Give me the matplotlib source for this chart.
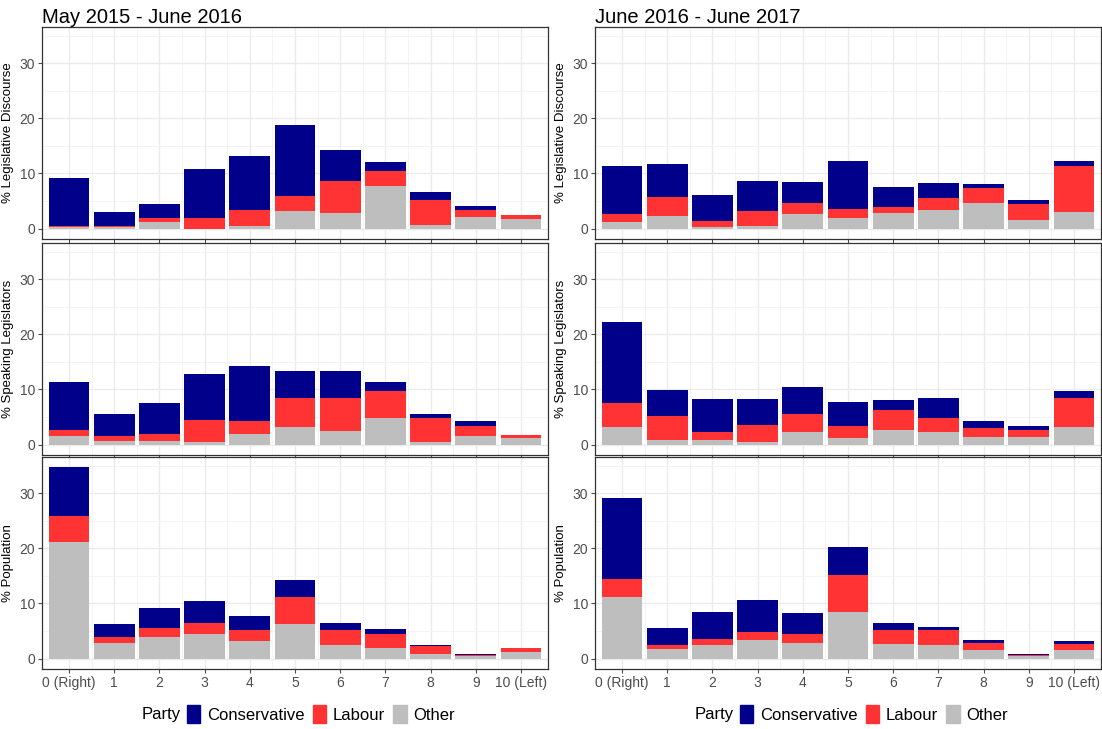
import matplotlib.pyplot as plt
from matplotlib.patches import Patch

plt.rcParams["font.family"] = ["Liberation Sans", "DejaVu Sans"]

categories = ["0 (Right)", "1", "2", "3", "4", "5", "6", "7", "8", "9", "10 (Left)"]
periods = ["May 2015 - June 2016", "June 2016 - June 2017"]
rows = ["% Legislative Discourse", "% Speaking Legislators", "% Population"]

# per panel: (other, labour, conservative)
discourse_1516 = ([0.3, 0.2, 1.2, 0, 0.5, 3.2, 2.8, 7.7, 0.6, 2.1, 1.7],
                  [0.2, 0.3, 0.8, 2.0, 2.9, 2.7, 5.9, 2.7, 4.5, 1.3, 0.8],
                  [8.7, 2.5, 2.5, 8.9, 9.8, 12.9, 5.6, 1.7, 1.6, 0.7, 0])
discourse_1617 = ([1.1, 2.2, 0.2, 0.4, 2.6, 2.0, 2.8, 3.3, 4.6, 1.5, 3.0],
                  [1.5, 3.6, 1.1, 2.7, 2.0, 1.5, 1.1, 2.2, 2.7, 2.9, 8.4],
                  [8.7, 6.0, 4.7, 5.5, 3.8, 8.8, 3.6, 2.7, 0.7, 0.7, 0.9])
speakers_1516 = ([1.5, 0.7, 0.7, 0.4, 2.0, 3.1, 2.4, 4.9, 0.5, 1.5, 1.1],
                 [1.2, 0.9, 1.3, 4.0, 2.2, 5.3, 6.0, 4.9, 4.4, 1.8, 0.7],
                 [8.6, 3.9, 5.6, 8.5, 10.0, 4.9, 4.9, 1.5, 0.6, 0.9, 0])
speakers_1617 = ([3.2, 0.8, 0.8, 0.4, 2.3, 1.2, 2.7, 2.3, 1.4, 1.3, 3.1],
                 [4.3, 4.4, 1.4, 3.1, 3.2, 2.2, 3.6, 2.6, 1.6, 1.3, 5.4],
                 [14.8, 4.7, 6.0, 4.7, 5.0, 4.3, 1.8, 3.5, 1.3, 0.8, 1.2])
population_1516 = ([21.1, 2.9, 4.0, 4.4, 3.1, 6.2, 2.4, 2.0, 0.9, 0.4, 1.1],
                   [4.7, 1.1, 1.5, 2.1, 2.0, 4.9, 2.7, 2.4, 1.3, 0.3, 0.9],
                   [8.9, 2.2, 3.6, 3.9, 2.7, 3.1, 1.3, 0.9, 0.3, 0.2, 0])
population_1617 = ([11.1, 1.8, 2.5, 3.3, 2.9, 8.5, 2.7, 2.5, 1.5, 0.4, 1.5],
                   [3.4, 0.7, 1.1, 1.6, 1.6, 6.6, 2.4, 2.6, 1.4, 0.3, 1.2],
                   [14.6, 3.0, 4.9, 5.8, 3.7, 5.1, 1.3, 0.7, 0.4, 0.2, 0.4])

panels = [[discourse_1516, discourse_1617],
          [speakers_1516, speakers_1617],
          [population_1516, population_1617]]

parties = ["Conservative", "Labour", "Other"]
colors = {"Conservative": "#00008B", "Labour": "#FF3333", "Other": "#BEBEBE"}

fig = plt.figure(figsize=(11.02, 7.29), dpi=100)
lefts = [42 / 1102, 595 / 1102]
w = 506 / 1102
tops = [27, 243, 457]
h = 212 / 729

x = list(range(len(categories)))
for r in range(3):
    for c in range(2):
        ax = fig.add_axes([lefts[c], 1 - (tops[r] + 212) / 729, w, h])
        other, lab, con = panels[r][c]
        ax.bar(x, other, width=0.9, color=colors["Other"], zorder=2)
        ax.bar(x, lab, width=0.9, bottom=other, color=colors["Labour"], zorder=2)
        base = [a + b for a, b in zip(other, lab)]
        ax.bar(x, con, width=0.9, bottom=base, color=colors["Conservative"], zorder=2)
        ax.set_xlim(-0.6, 10.6)
        ax.set_ylim(-1.9, 36.6)
        ax.set_yticks([0, 10, 20, 30])
        ax.set_yticks([5, 15, 25, 35], minor=True)
        ax.set_xticks(x)
        ax.set_xticks([i + 0.5 for i in x[:-1]], minor=True)
        ax.grid(True, which="major", color="#EBEBEB", linewidth=1.0, zorder=0)
        ax.grid(True, which="minor", color="#F3F3F3", linewidth=0.6, zorder=0)
        ax.tick_params(axis="both", which="major", labelsize=10, colors="#4D4D4D",
                       length=3, width=0.8, pad=2)
        ax.tick_params(axis="both", which="minor", length=0)
        for s in ax.spines.values():
            s.set_color("#333333")
            s.set_linewidth(0.9)
        ax.set_ylabel(rows[r], fontsize=9.5, labelpad=4)
        if r == 2:
            ax.set_xticklabels(categories)
        else:
            ax.set_xticklabels([])
        if r == 0:
            ax.set_title(periods[c], loc="left", fontsize=14.5, pad=3)

handles = [Patch(color=colors[k]) for k in parties]
for off in [0, 553]:
    fig.legend(handles, parties, loc="center",
               bbox_to_anchor=((321 + off) / 1102, 1 - 714 / 729), ncol=3,
               frameon=False, fontsize=12, handlelength=0.8, handleheight=1.2,
               handletextpad=0.4, columnspacing=0.5)
    fig.text((142 + off) / 1102, 1 - 714 / 729, "Party", fontsize=12,
             ha="left", va="center")

fig.savefig("out.png", dpi=100)
